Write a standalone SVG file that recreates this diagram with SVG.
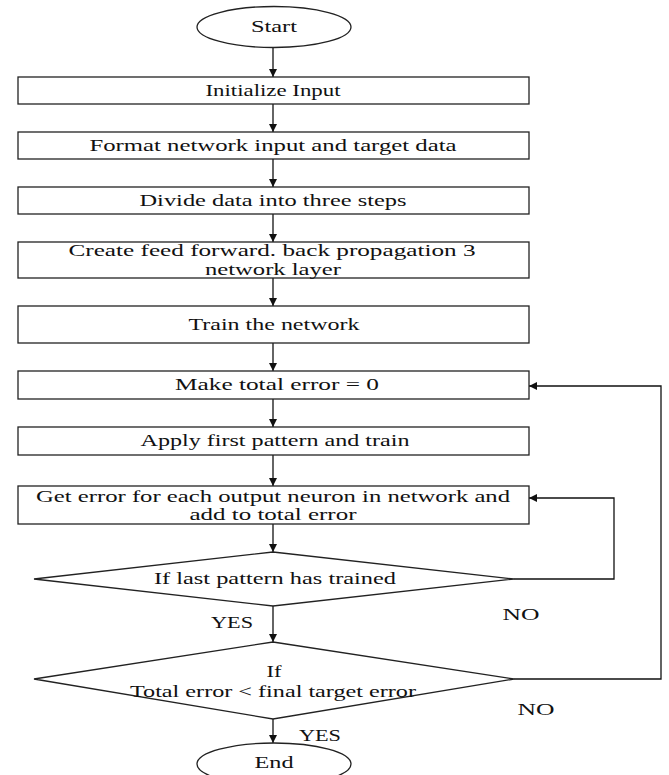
<svg xmlns="http://www.w3.org/2000/svg" width="669" height="775" viewBox="0 0 669 775">
<defs>
<marker id="ah" viewBox="0 0 10 10" refX="10" refY="5" markerWidth="8" markerHeight="8" markerUnits="userSpaceOnUse" orient="auto">
<path d="M0,0 L10,5 L0,10 z" fill="#111"/>
</marker>
<style>
.sh{fill:#fff;stroke:#222;stroke-width:1.3}
.t{font-family:"Liberation Serif","Times New Roman",serif;font-size:16px;fill:#111;text-anchor:middle}
.c{fill:none;stroke:#111;stroke-width:1.3;marker-end:url(#ah)}
</style>
</defs>
<rect width="669" height="775" fill="#fff"/>
<g id="connectors">
<line class="c" x1="273" y1="47" x2="273" y2="77"/>
<line class="c" x1="273" y1="104" x2="273" y2="132"/>
<line class="c" x1="273" y1="159" x2="273" y2="187"/>
<line class="c" x1="273" y1="214" x2="273" y2="242"/>
<line class="c" x1="273" y1="278" x2="273" y2="306"/>
<line class="c" x1="273" y1="343" x2="273" y2="371"/>
<line class="c" x1="273" y1="399" x2="273" y2="427"/>
<line class="c" x1="273" y1="455" x2="273" y2="486"/>
<line class="c" x1="273" y1="524" x2="273" y2="552"/>
<line class="c" x1="273" y1="606" x2="273" y2="642"/>
<line class="c" x1="273" y1="719" x2="273" y2="743"/>
<polyline class="c" points="514,579 614,579 614,498 529,498"/>
<polyline class="c" points="514,679 661,679 661,386 529,386"/>
</g>
<g id="start"><ellipse class="sh" cx="274" cy="27" rx="77" ry="20.5"/><text class="t" transform="scale(1.5,1)" x="182.67" y="32" textLength="30.67" lengthAdjust="spacingAndGlyphs">Start</text></g>
<g id="init"><rect class="sh" x="18" y="77" width="511" height="27"/><text class="t" transform="scale(1.5,1)" x="182" y="96" textLength="90" lengthAdjust="spacingAndGlyphs">Initialize Input</text></g>
<g id="format"><rect class="sh" x="18" y="132" width="511" height="27"/><text class="t" transform="scale(1.5,1)" x="182" y="151" textLength="244.67" lengthAdjust="spacingAndGlyphs">Format network input and target data</text></g>
<g id="divide"><rect class="sh" x="18" y="187" width="511" height="27"/><text class="t" transform="scale(1.5,1)" x="182" y="206" textLength="178" lengthAdjust="spacingAndGlyphs">Divide data into three steps</text></g>
<g id="create"><rect class="sh" x="18" y="242" width="511" height="36"/><text class="t" transform="scale(1.5,1)" x="181.33" y="256" textLength="271.33" lengthAdjust="spacingAndGlyphs">Create feed forward. back propagation 3</text><text class="t" transform="scale(1.5,1)" x="182" y="275" textLength="90.67" lengthAdjust="spacingAndGlyphs">network layer</text></g>
<g id="train"><rect class="sh" x="18" y="306" width="511" height="37"/><text class="t" transform="scale(1.5,1)" x="182.67" y="330" textLength="114" lengthAdjust="spacingAndGlyphs">Train the network</text></g>
<g id="zero"><rect class="sh" x="18" y="371" width="511" height="28"/><text class="t" transform="scale(1.5,1)" x="184.67" y="390" textLength="136" lengthAdjust="spacingAndGlyphs">Make total error = 0</text></g>
<g id="apply"><rect class="sh" x="18" y="427" width="511" height="28"/><text class="t" transform="scale(1.5,1)" x="183.33" y="446" textLength="179.33" lengthAdjust="spacingAndGlyphs">Apply first pattern and train</text></g>
<g id="geterr"><rect class="sh" x="18" y="486" width="511" height="38"/><text class="t" transform="scale(1.5,1)" x="182" y="502" textLength="316" lengthAdjust="spacingAndGlyphs">Get error for each output neuron in network and</text><text class="t" transform="scale(1.5,1)" x="182" y="520" textLength="111.33" lengthAdjust="spacingAndGlyphs">add to total error</text></g>
<g id="dec1"><polygon class="sh" points="273,552 514,579 273,606 34,579"/><text class="t" transform="scale(1.5,1)" x="183.33" y="584" textLength="161.33" lengthAdjust="spacingAndGlyphs">If last pattern has trained</text></g>
<g id="dec2"><polygon class="sh" points="273,642 514,679 273,719 34,679"/><text class="t" transform="scale(1.5,1)" x="182.67" y="677" textLength="10" lengthAdjust="spacingAndGlyphs">If</text><text class="t" transform="scale(1.5,1)" x="182" y="697" textLength="190.67" lengthAdjust="spacingAndGlyphs">Total error &lt; final target error</text></g>
<g id="end"><ellipse class="sh" cx="274" cy="764" rx="77" ry="21"/><text class="t" transform="scale(1.5,1)" x="182.67" y="768" textLength="26" lengthAdjust="spacingAndGlyphs">End</text></g>
<g id="labels">
<text class="t" transform="scale(1.5,1)" x="154.67" y="628" textLength="28" lengthAdjust="spacingAndGlyphs">YES</text>
<text class="t" transform="scale(1.5,1)" x="347.33" y="620" textLength="24.67" lengthAdjust="spacingAndGlyphs">NO</text>
<text class="t" transform="scale(1.5,1)" x="357.33" y="715" textLength="24.67" lengthAdjust="spacingAndGlyphs">NO</text>
<text class="t" transform="scale(1.5,1)" x="213.33" y="741" textLength="28" lengthAdjust="spacingAndGlyphs">YES</text>
</g>
</svg>
